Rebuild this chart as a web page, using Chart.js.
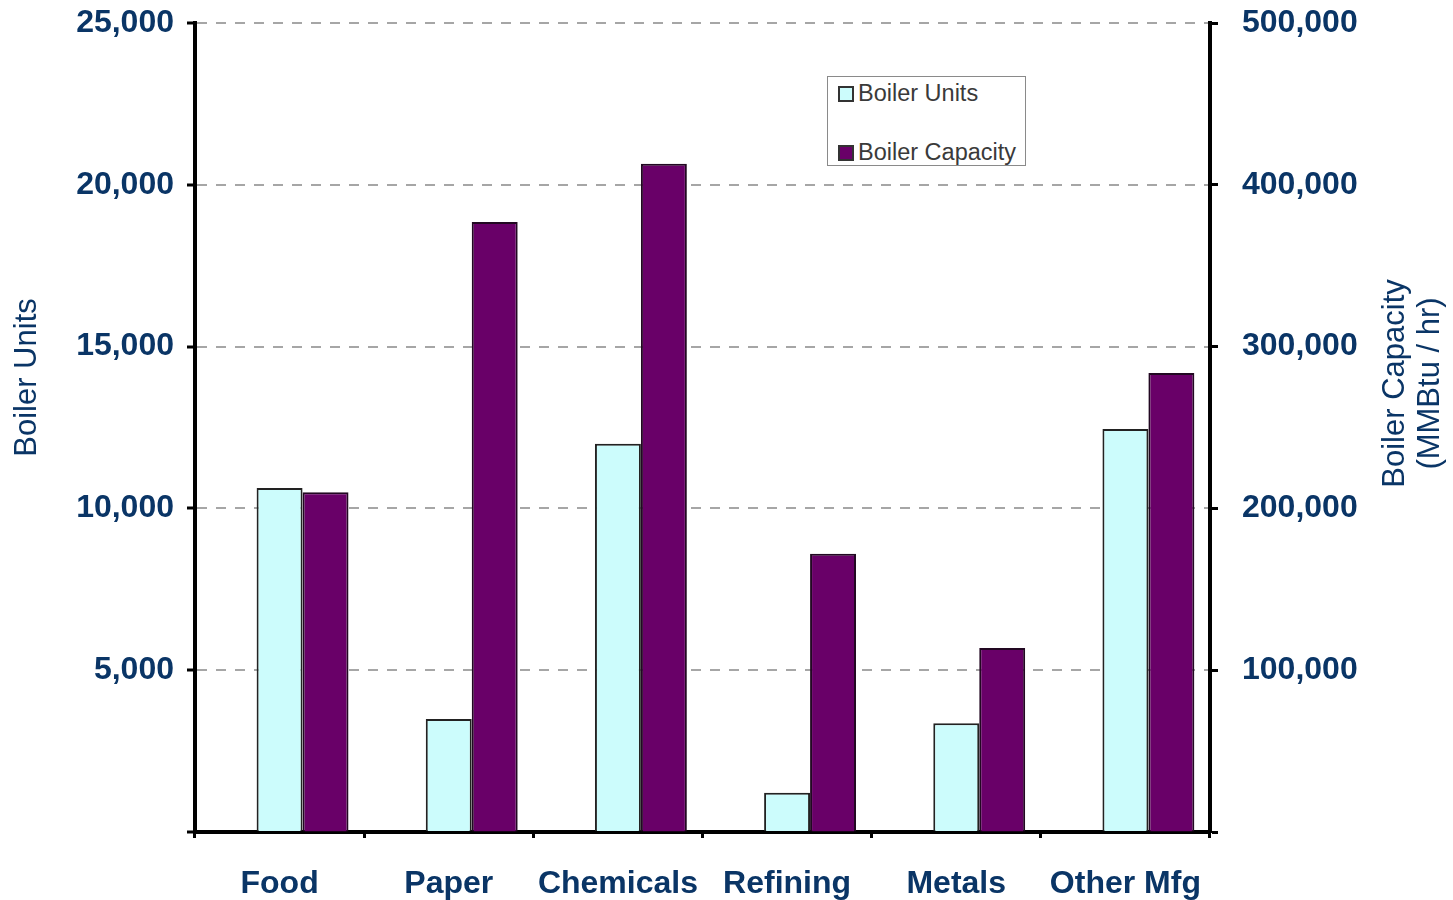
<!DOCTYPE html>
<html>
<head>
<meta charset="utf-8">
<title>Boiler Units and Capacity by Industry</title>
<script src="https://cdn.jsdelivr.net/npm/chart.js@4.4.1/dist/chart.umd.min.js"></script>
<style>
  body { margin: 0; background: #fff; }
  #wrap { position: relative; width: 1453px; height: 900px; }
  #legend {
    position: absolute; left: 827px; top: 76px; width: 197px; height: 88px;
    border: 1px solid #8a8a8a; background: #fff;
    font-family: "Liberation Sans", Arial, sans-serif; font-size: 23.5px; color: #3a3a3a;
  }
  #legend .item { position: absolute; left: 10px; display: flex; align-items: center; }
  #legend .box { width: 12px; height: 12px; border: 2px solid #333; margin-right: 4px; }
</style>
</head>
<body>
<div id="wrap">
  <canvas id="myChart" width="1453" height="900"></canvas>
  <div id="legend"></div>
</div>
<script>
const industries = ['Food', 'Paper', 'Chemicals', 'Refining', 'Metals', 'Other Mfg'];
const boilerUnits = [10630, 3490, 12000, 1210, 3360, 12450];
const boilerCapacity = [210000, 377000, 413000, 172000, 113700, 283700]; // MMBtu/hr
const unitTicks = [0, 5000, 10000, 15000, 20000, 25000];
const capacityTicks = [0, 100000, 200000, 300000, 400000, 500000];

const navy = '#0a3566';
const labelFont = { family: '"Liberation Sans", Arial, sans-serif', size: 32, weight: 'bold' };

function fmt(v) {
    return v === 0 ? '' : v.toLocaleString('en-US');
}

// fixed axis width; the top/bottom label overhang is left to layout.padding
function fixWidth(w) {
    return function(scale) {
        scale.width = w;
        scale.paddingTop = 0;
        scale.paddingBottom = 0;
    };
}

// rotated axis titles (both read bottom-to-top)
const axisTitles = {
    id: 'axisTitles',
    afterDraw(chart) {
        const ctx = chart.ctx;
        const mid = (chart.chartArea.top + chart.chartArea.bottom) / 2;
        ctx.save();
        ctx.fillStyle = navy;
        ctx.font = '31px "Liberation Sans", Arial, sans-serif';
        ctx.textAlign = 'center';
        ctx.textBaseline = 'middle';

        ctx.save();
        ctx.translate(chart.scales.y.left + 27, mid - 50);
        ctx.rotate(-Math.PI / 2);
        ctx.fillText('Boiler Units', 0, 0);
        ctx.restore();

        ctx.save();
        ctx.translate(chart.scales.y1.right - 58, mid - 44);
        ctx.rotate(-Math.PI / 2);
        ctx.fillText('Boiler Capacity', 0, 0);
        ctx.fillText('(MMBtu / hr)', 0, 35);
        ctx.restore();

        ctx.restore();
    }
};

const ctx = document.getElementById('myChart').getContext('2d');
const myChart = new Chart(ctx, {
    type: 'bar',
    data: {
        labels: industries,
        datasets: [{
            // empty slot that pushes each pair to the right of its category
            label: '',
            data: [],
            yAxisID: 'y'
        }, {
            label: 'Boiler Units',
            data: boilerUnits,
            backgroundColor: '#ccfcfc',
            borderColor: '#222',
            borderWidth: 2,
            yAxisID: 'y'
        }, {
            label: 'Boiler Capacity',
            data: boilerCapacity,
            backgroundColor: '#690068',
            borderColor: '#220822',
            borderWidth: 2,
            yAxisID: 'y1'
        }]
    },
    options: {
        responsive: false,
        animation: false,
        categoryPercentage: 0.815,
        barPercentage: 1,
        layout: { padding: { top: 23, right: 0, left: 0, bottom: 0 } },
        plugins: {
            legend: { display: false },
            tooltip: { enabled: false }
        },
        scales: {
            x: {
                grid: {
                    offset: true,
                    drawOnChartArea: false,
                    tickLength: 6,
                    tickColor: '#000',
                    tickWidth: 3
                },
                border: { color: '#000', width: 4 },
                ticks: { color: navy, font: labelFont, padding: 27, maxRotation: 0 },
                afterFit(scale) { scale.height = 68; }
            },
            y: {
                position: 'left',
                min: 0,
                max: 25000,
                afterBuildTicks(scale) { scale.ticks = unitTicks.map(v => ({ value: v })); },
                grid: {
                    color: '#a6a6a6',
                    lineWidth: 2,
                    tickLength: 8,
                    tickColor: '#000',
                    tickWidth: 3
                },
                border: { color: '#000', width: 4, dash: [10, 9] },
                ticks: { color: navy, font: labelFont, padding: 13, callback: fmt },
                afterFit: fixWidth(195)
            },
            y1: {
                position: 'right',
                min: 0,
                max: 500000,
                afterBuildTicks(scale) { scale.ticks = capacityTicks.map(v => ({ value: v })); },
                grid: {
                    drawOnChartArea: false,
                    tickLength: 8,
                    tickColor: '#000',
                    tickWidth: 3
                },
                border: { color: '#000', width: 4 },
                ticks: { color: navy, font: labelFont, padding: 24, callback: fmt },
                afterFit: fixWidth(243)
            }
        }
    },
    plugins: [axisTitles]
});

// legend box inside the plot, built from the two real series
const legend = document.getElementById('legend');
myChart.data.datasets.slice(1).forEach(function(ds, i) {
    const item = document.createElement('div');
    item.className = 'item';
    item.style.top = (i === 0 ? 3 : 62) + 'px';
    const box = document.createElement('span');
    box.className = 'box';
    box.style.background = ds.backgroundColor;
    const text = document.createElement('span');
    text.textContent = ds.label;
    item.appendChild(box);
    item.appendChild(text);
    legend.appendChild(item);
});
</script>
</body>
</html>
